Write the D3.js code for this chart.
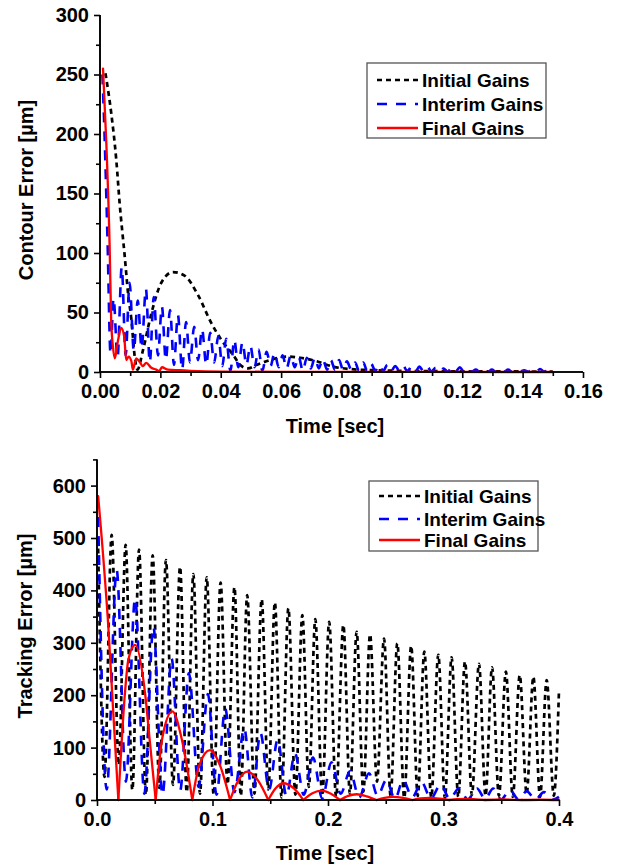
<!DOCTYPE html>
<html>
<head>
<meta charset="utf-8">
<script src="https://cdn.jsdelivr.net/npm/d3@7"></script>
<style>
  body { margin: 0; background: #fff; }
  text { font-family: "Liberation Sans", Arial, sans-serif; font-weight: bold; fill: #000; }
</style>
</head>
<body>
<svg id="chart" width="618" height="866"></svg>
<script>
// ---- data: [time (s), error (um)] ----
const seriesNames = ["Initial Gains", "Interim Gains", "Final Gains"]

// contour error (top panel)
const contourInitial = [
	[0.0018, 251], [0.0037, 218], [0.0054, 178], [0.0065, 142], [0.0082, 97], [0.0093, 66], [0.0104, 44],
	[0.0115, 13], [0.0124, 2], [0.0142, 18], [0.017, 49], [0.0203, 75], [0.0242, 84], [0.028, 81],
	[0.0324, 65], [0.0369, 41], [0.0402, 27], [0.0442, 14], [0.0464, 6], [0.049, 3], [0.0519, 6],
	[0.0563, 10], [0.0618, 13], [0.0663, 12], [0.0718, 9], [0.0772, 4.5], [0.0828, 2.5], [0.0905, 1.5],
	[0.1, 1], [0.12, 0.6], [0.15, 0.4]
]
const contourInterim = [
	[0.0008, 250], [0.0015, 200], [0.0025, 110], [0.0035, 15],
	[0.0045, 62], [0.0058, 12], [0.0072, 88], [0.0085, 14], [0.0098, 75], [0.0112, 18], [0.0125, 60],
	[0.0138, 20], [0.0152, 70], [0.0165, 8], [0.0178, 63], [0.0192, 14], [0.0205, 55], [0.0218, 10],
	[0.0232, 52], [0.0245, 6], [0.0258, 48], [0.0272, 2], [0.0285, 42], [0.0298, 8], [0.0312, 38],
	[0.0325, 10], [0.0338, 36], [0.0352, 6], [0.0365, 33], [0.0378, 8], [0.0392, 30], [0.0405, 5],
	[0.0418, 28], [0.0432, 1], [0.0445, 27], [0.0458, 4], [0.0472, 25], [0.0485, 6], [0.0498, 22],
	[0.0512, 4], [0.0525, 19], [0.0538, 1], [0.0552, 17], [0.0565, 5], [0.0578, 16], [0.0592, 4],
	[0.0605, 14], [0.0618, 3], [0.0632, 14], [0.0645, 4], [0.0658, 13], [0.0672, 1], [0.0685, 12],
	[0.0698, 3], [0.0712, 12], [0.0725, 3], [0.0738, 11], [0.0752, 2], [0.0765, 10], [0.0778, 2],
	[0.0792, 10], [0.0805, 2], [0.0818, 9], [0.0832, 2], [0.0845, 8], [0.0858, 1], [0.0872, 8],
	[0.0885, 1], [0.0898, 7], [0.0912, 1], [0.0925, 6], [0.0938, 1], [0.0952, 6], [0.0965, 1],
	[0.0978, 5], [0.0992, 1], [0.1005, 5], [0.1018, 0.5], [0.1032, 4.5], [0.1045, 0.5], [0.1058, 4.5],
	[0.1072, 0.5], [0.1085, 4], [0.1098, 0.5], [0.1112, 3.5], [0.1125, 0.5], [0.1138, 3], [0.1152, 0.3],
	[0.1165, 3.5], [0.1178, 0.3], [0.1192, 4], [0.1205, 0.3], [0.1218, 2.5], [0.1232, 0.3], [0.1245, 2],
	[0.1258, 0.2], [0.1272, 2], [0.1285, 0.2], [0.1298, 2], [0.1312, 0.2], [0.1325, 2], [0.1338, 0.2],
	[0.1352, 2], [0.1365, 0.2], [0.1378, 1.5], [0.1392, 0.2], [0.1405, 1.5], [0.1418, 0.2], [0.1432, 2],
	[0.1445, 0.2], [0.1458, 2.5], [0.1472, 0.2], [0.1485, 1.5], [0.15, 0.5]
]
const contourFinal = [
	[0.001, 255], [0.0021, 192], [0.0032, 105], [0.0037, 44], [0.0043, 21], [0.0049, 11.5],
	[0.006, 27], [0.007, 37], [0.008, 30], [0.0087, 10], [0.0095, 13], [0.0104, 9], [0.0109, 2],
	[0.012, 11.5], [0.0131, 8.6], [0.0142, 5], [0.0153, 7.6], [0.017, 3.5], [0.0186, 2], [0.0196, 0.8],
	[0.0205, 4], [0.0225, 2], [0.0265, 1.5], [0.03, 1], [0.04, 0.3], [0.06, 0.1], [0.15, 0]
]

// tracking error (bottom panel)
const trackingInitial = [
	[0.001, 480], [0.0065, 44], [0.0127, 506], [0.0188, 67], [0.0248, 487], [0.0306, 19], [0.0364, 478],
	[0.0423, 10], [0.0482, 467], [0.054, 23], [0.0597, 458], [0.0658, 29], [0.0719, 445], [0.0777, 15],
	[0.0834, 431], [0.0892, 12], [0.095, 425], [0.101, 10], [0.107, 415], [0.113, 30], [0.119, 406],
	[0.1245, 8], [0.130, 391], [0.1363, 12], [0.1426, 383], [0.1483, 20], [0.154, 377], [0.1598, 5],
	[0.1657, 366], [0.1718, 10], [0.1778, 353], [0.1834, 25], [0.189, 345], [0.195, 8], [0.201, 340],
	[0.207, 6], [0.2133, 334], [0.219, 12], [0.2248, 321], [0.2306, 16], [0.2364, 316], [0.2424, 35],
	[0.2485, 308], [0.2542, 8], [0.26, 299], [0.266, 4], [0.272, 294], [0.2777, 8], [0.2834, 283],
	[0.2894, 5], [0.2955, 277], [0.3012, 4], [0.307, 272], [0.3128, 6], [0.3186, 264], [0.3246, 10],
	[0.3307, 260], [0.3364, 8], [0.342, 253], [0.348, 8], [0.354, 245], [0.36, 6], [0.366, 238],
	[0.372, 12], [0.3778, 235], [0.3836, 6], [0.3893, 229], [0.3955, 8], [0.4, 210]
]
const trackingInterim = [
	[0.001, 540], [0.0084, 20], [0.017, 439], [0.025, 35], [0.033, 385], [0.041, 12], [0.0488, 331],
	[0.0567, 10], [0.0646, 270], [0.072, 18], [0.0795, 242], [0.088, 25], [0.096, 202], [0.1035, 10],
	[0.111, 174], [0.119, 15], [0.1275, 137], [0.1345, 5], [0.1415, 128], [0.149, 20], [0.1564, 115],
	[0.164, 8], [0.1714, 89], [0.179, 10], [0.187, 81], [0.195, 3], [0.203, 72], [0.211, 12],
	[0.219, 55], [0.227, 5], [0.2355, 51], [0.243, 8], [0.2505, 38], [0.258, 2], [0.265, 38],
	[0.273, 5], [0.281, 34], [0.289, 3], [0.2975, 29], [0.3055, 2], [0.3135, 23], [0.321, 1],
	[0.329, 22], [0.336, 2], [0.343, 22], [0.350, 1], [0.3575, 19], [0.365, 1], [0.372, 17],
	[0.3795, 1], [0.387, 15], [0.395, 1], [0.4, 6]
]
const trackingFinal = [
	[0.001, 580], [0.004, 502], [0.0098, 331], [0.0141, 166], [0.0185, 0],
	[0.0242, 204], [0.0271, 267], [0.033, 296], [0.0416, 204], [0.0459, 108], [0.0508, 0],
	[0.0565, 118], [0.0652, 169], [0.0735, 115], [0.0825, 0],
	[0.0885, 66], [0.0978, 95], [0.1065, 66], [0.1152, 0],
	[0.1225, 38], [0.130, 54], [0.1395, 37], [0.1483, 0],
	[0.1545, 22], [0.1613, 32], [0.1705, 22], [0.1786, 0],
	[0.1865, 13], [0.1945, 18], [0.2025, 12], [0.2104, 0],
	[0.2175, 8], [0.2248, 11], [0.2335, 7], [0.242, 0],
	[0.249, 4], [0.256, 6], [0.265, 4], [0.273, 0],
	[0.28, 3], [0.288, 4], [0.297, 2.5], [0.305, 0],
	[0.312, 1.5], [0.32, 2], [0.328, 1.2], [0.336, 0],
	[0.35, 1], [0.368, 0], [0.384, 0.5], [0.4, 0]
]

// axis ticks
const contourXTicks = [0, 0.02, 0.04, 0.06, 0.08, 0.10, 0.12, 0.14, 0.16]
const contourXMinor = [0.01, 0.03, 0.05, 0.07, 0.09, 0.11, 0.13, 0.15]
const contourYTicks = [0, 50, 100, 150, 200, 250, 300]
const contourYMinor = [25, 75, 125, 175, 225, 275]
const trackingXTicks = [0, 0.1, 0.2, 0.3, 0.4]
const trackingXMinor = [0.05, 0.15, 0.25, 0.35]
const trackingYTicks = [0, 100, 200, 300, 400, 500, 600]
const trackingYMinor = [50, 150, 250, 350, 450, 550, 650]

const STYLES = [
	{ color: "#000", width: 2.7, dash: "5,4" },
	{ color: "#0000ff", width: 2.6, dash: "10,9" },
	{ color: "#ff0000", width: 2.3, dash: null },
]

const svg = d3.select("#chart")
const FONT = 20
const LEGEND_FONT = 19

function drawPanel(cfg) {
	const g = svg.append("g")
	const x = d3.scaleLinear().domain(cfg.xDomain).range(cfg.xRange)
	const y = d3.scaleLinear().domain(cfg.yDomain).range(cfg.yRange)
	const x0 = cfg.xRange[0]
	const y0 = cfg.yRange[0]

	// series
	const line = d3.line()
		.x(d => x(d[0]))
		.y(d => y(d[1]))
		.curve(d3.curveMonotoneX)

	cfg.series.forEach((data, i) => {
		const st = STYLES[i]
		// the final gains curve has cusps where it touches zero, so draw it arch by arch
		let pieces = [data]
		if (cfg.splitAtZero && i === 2) {
			pieces = []
			let cur = []
			data.forEach((d, k) => {
				cur.push(d)
				if (d[1] === 0 && k > 0 && k < data.length - 1) {
					pieces.push(cur)
					cur = [d]
				}
			})
			pieces.push(cur)
		}
		pieces.forEach(p => {
			g.append("path")
				.datum(p)
				.attr("d", line)
				.attr("fill", "none")
				.attr("stroke", st.color)
				.attr("stroke-width", st.width)
				.attr("stroke-dasharray", st.dash)
				.attr("stroke-linejoin", "round")
				.attr("stroke-linecap", st.dash ? "butt" : "round")
		})
	})

	// axes
	const xAxis = g.append("g")
		.attr("transform", `translate(0,${y0})`)
		.call(d3.axisBottom(x).tickValues(cfg.xTicks).tickSize(6).tickPadding(6).tickFormat(cfg.xFormat))
	const xMinor = g.append("g")
		.attr("transform", `translate(0,${y0})`)
		.call(d3.axisBottom(x).tickValues(cfg.xMinor).tickSize(4).tickFormat(""))
	const yAxis = g.append("g")
		.attr("transform", `translate(${x0},0)`)
		.call(d3.axisLeft(y).tickValues(cfg.yTicks).tickSize(6).tickPadding(5).tickFormat(d3.format("d")))
	const yMinor = g.append("g")
		.attr("transform", `translate(${x0},0)`)
		.call(d3.axisLeft(y).tickValues(cfg.yMinor).tickSize(4).tickFormat(""))

	;[xAxis, xMinor, yAxis, yMinor].forEach(a => {
		a.selectAll("path.domain").attr("stroke", "#000").attr("stroke-width", 1.6)
			.attr("d", a === xAxis || a === xMinor
				? `M${cfg.xRange[0]},0H${cfg.xRange[1]}`
				: `M0,${cfg.yRange[0]}V${cfg.yRange[1]}`)
		a.selectAll(".tick line").attr("stroke", "#000").attr("stroke-width", 1.6)
		a.selectAll(".tick text")
			.style("font-family", "'Liberation Sans', Arial, sans-serif")
			.style("font-weight", "bold")
			.style("font-size", FONT + "px")
			.attr("fill", "#000")
	})

	// axis titles
	g.append("text")
		.attr("x", cfg.xTitlePos[0])
		.attr("y", cfg.xTitlePos[1])
		.attr("text-anchor", "middle")
		.style("font-size", FONT + "px")
		.text("Time [sec]")
	g.append("text")
		.attr("transform", `translate(${cfg.yTitlePos[0]},${cfg.yTitlePos[1]}) rotate(-90)`)
		.attr("text-anchor", "middle")
		.style("font-size", FONT + "px")
		.text(cfg.yTitle)

	// legend
	const lg = g.append("g").attr("transform", `translate(${cfg.legend[0]},${cfg.legend[1]})`)
	lg.append("rect")
		.attr("width", cfg.legend[2])
		.attr("height", cfg.legend[3])
		.attr("fill", "#fff")
		.attr("stroke", "#555")
		.attr("stroke-width", 1.3)
	seriesNames.forEach((name, i) => {
		const ry = cfg.legendRows[i]
		lg.append("line")
			.attr("x1", 10).attr("x2", 51)
			.attr("y1", ry).attr("y2", ry)
			.attr("stroke", STYLES[i].color)
			.attr("stroke-width", STYLES[i].width)
			.attr("stroke-dasharray", STYLES[i].dash)
		lg.append("text")
			.attr("x", 55)
			.attr("y", ry + 7)
			.style("font-size", LEGEND_FONT + "px")
			.text(name)
	})
}

drawPanel({
	xDomain: [0, 0.16], xRange: [100, 583],
	yDomain: [0, 300], yRange: [372, 15],
	xTicks: contourXTicks, xMinor: contourXMinor, xFormat: d3.format(".2f"),
	yTicks: contourYTicks, yMinor: contourYMinor,
	series: [contourInitial, contourInterim, contourFinal],
	splitAtZero: false,
	xTitlePos: [335, 433],
	yTitle: "Contour Error [\u00b5m]", yTitlePos: [33, 190],
	legend: [367, 63, 179, 75], legendRows: [17, 41, 65],
})

drawPanel({
	xDomain: [0, 0.4], xRange: [97, 559],
	yDomain: [0, 650], yRange: [800, 459.4],
	xTicks: trackingXTicks, xMinor: trackingXMinor, xFormat: d3.format(".1f"),
	yTicks: trackingYTicks, yMinor: trackingYMinor,
	series: [trackingInitial, trackingInterim, trackingFinal],
	splitAtZero: true,
	xTitlePos: [325, 860],
	yTitle: "Tracking Error [\u00b5m]", yTitlePos: [32, 626],
	legend: [369, 481, 169, 70], legendRows: [15, 38, 59],
})
</script>
</body>
</html>
